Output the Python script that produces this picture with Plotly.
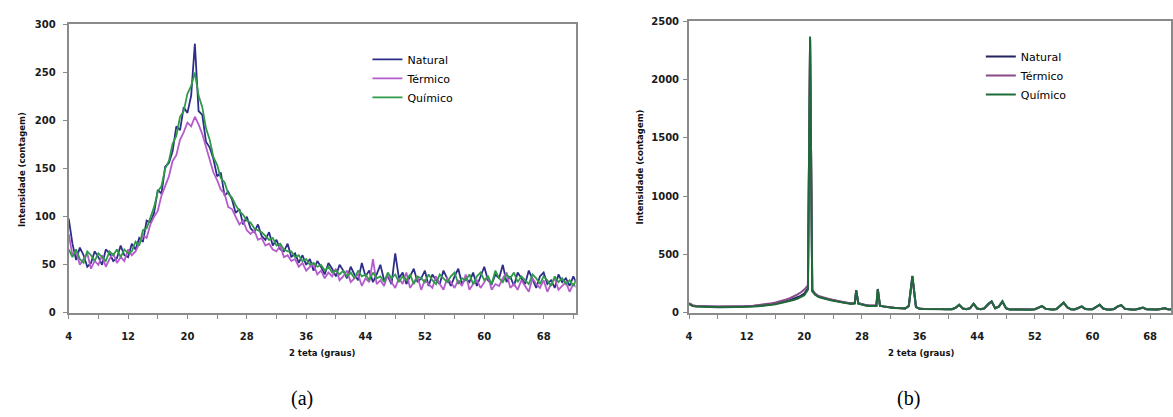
import plotly.graph_objects as go

# ---------------- data: panel (a) ----------------
TWO_THETA_A = [4.0, 4.5, 5.0, 5.5, 6.0, 6.5, 7.0, 7.5, 8.0, 8.5, 9.0, 9.5, 10.0, 10.5, 11.0, 11.5,
               12.0, 12.5, 13.0, 13.5, 14.0, 14.5, 15.0, 15.5, 16.0, 16.5, 17.0, 17.5, 18.0, 18.5,
               19.0, 19.5, 20.0, 20.5, 21.0, 21.5, 22.0, 22.5, 23.0, 23.5, 24.0, 24.5, 25.0, 25.5,
               26.0, 26.5, 27.0, 27.5, 28.0, 28.5, 29.0, 29.5, 30.0, 30.5, 31.0, 31.5, 32.0, 32.5,
               33.0, 33.5, 34.0, 34.5, 35.0, 35.5, 36.0, 36.5, 37.0, 37.5, 38.0, 38.5, 39.0, 39.5,
               40.0, 40.5, 41.0, 41.5, 42.0, 42.5, 43.0, 43.5, 44.0, 44.5, 45.0, 45.5, 46.0, 46.5,
               47.0, 47.5, 48.0, 48.5, 49.0, 49.5, 50.0, 50.5, 51.0, 51.5, 52.0, 52.5, 53.0, 53.5,
               54.0, 54.5, 55.0, 55.5, 56.0, 56.5, 57.0, 57.5, 58.0, 58.5, 59.0, 59.5, 60.0, 60.5,
               61.0, 61.5, 62.0, 62.5, 63.0, 63.5, 64.0, 64.5, 65.0, 65.5, 66.0, 66.5, 67.0, 67.5,
               68.0, 68.5, 69.0, 69.5, 70.0, 70.5, 71.0, 71.5, 72.0, 72.5, 73.0, 73.5]

NATURAL_A = [98, 72, 55, 68, 60, 48, 52, 64, 58, 50, 66, 62, 54, 57, 70, 60,
             58, 72, 66, 78, 74, 96, 94, 104, 128, 124, 152, 156, 168, 194,
             190, 214, 208, 226, 280, 210, 206, 178, 172, 160, 142, 146, 122, 126,
             118, 104, 108, 92, 100, 88, 84, 92, 80, 76, 84, 70, 76, 66,
             64, 72, 58, 62, 52, 60, 50, 56, 44, 54, 48, 40, 52, 46,
             38, 50, 44, 36, 48, 40, 34, 52, 38, 44, 32, 40, 50, 34,
             38, 30, 62, 36, 42, 30, 38, 46, 32, 36, 44, 28, 40, 34,
             30, 44, 36, 28, 38, 46, 30, 36, 32, 42, 28, 38, 48, 34,
             30, 40, 36, 50, 32, 38, 28, 42, 36, 30, 44, 34, 26, 38,
             42, 30, 34, 26, 40, 32, 36, 28, 38, 30, 34, 28]

TERMICO_A = [82, 60, 64, 50, 56, 62, 46, 54, 50, 60, 48, 56, 62, 52, 58, 54,
             66, 60, 64, 72, 80, 78, 92, 100, 106, 122, 132, 142, 158, 164,
             180, 188, 198, 194, 204, 196, 186, 172, 160, 146, 138, 128, 124, 110,
             108, 100, 92, 96, 86, 82, 86, 76, 78, 70, 72, 66, 64, 70,
             58, 60, 54, 56, 48, 52, 44, 48, 50, 40, 44, 36, 42, 38,
             46, 34, 38, 44, 32, 36, 40, 28, 36, 32, 56, 30, 34, 28,
             40, 32, 26, 36, 30, 42, 26, 32, 38, 24, 34, 30, 26, 38,
             30, 24, 36, 32, 26, 34, 28, 40, 24, 30, 34, 26, 32, 38,
             24, 30, 28, 36, 42, 26, 30, 24, 34, 28, 22, 36, 30, 26,
             34, 22, 30, 36, 24, 28, 32, 22, 30, 26, 32, 24]

QUIMICO_A = [66, 58, 66, 56, 52, 64, 60, 54, 62, 58, 54, 64, 60, 66, 58, 66,
             62, 64, 74, 70, 86, 88, 100, 110, 126, 132, 150, 158, 176, 184,
             204, 210, 228, 236, 250, 226, 214, 192, 180, 162, 154, 140, 136, 124,
             120, 112, 106, 102, 96, 94, 88, 86, 84, 80, 76, 78, 70, 72,
             66, 64, 64, 58, 60, 54, 56, 50, 52, 48, 50, 44, 48, 42,
             44, 40, 44, 38, 42, 36, 44, 38, 40, 34, 42, 36, 38, 32,
             42, 36, 40, 32, 38, 34, 40, 30, 38, 36, 32, 40, 34, 30,
             40, 36, 32, 38, 42, 30, 36, 34, 40, 30, 38, 42, 34, 38,
             30, 44, 36, 32, 40, 36, 42, 32, 38, 34, 30, 40, 36, 30,
             38, 34, 28, 38, 32, 36, 30, 34, 28, 36, 30, 32]

# ---------------- data: panel (b) ----------------
TWO_THETA_B = [4.0, 4.5, 5.0, 5.5, 6.0, 6.5, 7.0, 7.5, 8.0, 8.5, 9.0, 9.5, 10.0, 10.5, 11.0, 11.5,
               12.0, 12.5, 13.0, 13.5, 14.0, 14.5, 15.0, 15.5, 16.0, 16.5, 17.0, 17.5, 18.0, 18.5,
               19.0, 19.5, 20.0, 20.5, 20.8, 21.1,
               21.5, 22.0, 22.5, 23.0, 23.5, 24.0, 24.5, 25.0, 25.5, 26.0, 26.5, 27.0,
               27.2,
               27.5, 28.0, 28.5, 29.0, 29.5, 30.0,
               30.2,
               30.5, 31.0, 31.5, 32.0, 32.5, 33.0, 33.5, 34.0, 34.5, 35.0, 35.5, 36.0, 36.5, 37.0,
               37.5, 38.0, 38.5, 39.0, 39.5, 40.0, 40.5, 41.0, 41.5, 42.0, 42.5, 43.0, 43.5, 44.0,
               44.5, 45.0, 45.5, 46.0, 46.5, 47.0, 47.5, 48.0, 48.5, 49.0, 49.5, 50.0, 50.5, 51.0,
               51.5, 52.0, 52.5, 53.0, 53.5, 54.0, 54.5, 55.0, 55.5, 56.0, 56.5, 57.0, 57.5, 58.0,
               58.5, 59.0, 59.5, 60.0, 60.5, 61.0, 61.5, 62.0, 62.5, 63.0, 63.5, 64.0, 64.5, 65.0,
               65.5, 66.0, 66.5, 67.0, 67.5, 68.0, 68.5, 69.0, 69.5, 70.0, 70.5, 71.0, 71.5, 72.0,
               72.5]

NATURAL_B = [80, 62, 58, 56, 55, 54, 55, 53, 52, 53, 52, 51, 52, 52, 53, 54,
             55, 56, 58, 60, 63, 66, 70, 75, 80, 86, 93, 100, 110, 120,
             132, 146, 165, 210, 2350, 190,
             160, 140, 130, 122, 115, 108, 102, 96, 90, 85, 80, 84,
             195,
             82, 72, 66, 62, 59, 62,
             205,
             62, 55, 50, 46, 44, 42, 40, 38, 60, 315, 50, 36, 34, 35,
             33, 34, 32, 33, 32, 33, 32, 45, 70, 38, 32, 40, 78, 38,
             32, 40, 75, 98, 40, 55, 98, 40, 30, 30, 29, 30, 29, 30,
             29, 32, 45, 58, 36, 30, 29, 34, 60, 88, 48, 32, 30, 40,
             55, 34, 30, 32, 50, 70, 38, 30, 29, 34, 55, 66, 36, 30,
             29, 30, 38, 45, 32, 30, 29, 30, 34, 40, 31, 29, 30, 29,
             30]

TERMICO_B = [85, 66, 60, 58, 57, 56, 56, 55, 55, 55, 54, 54, 55, 55, 56, 57,
             58, 60, 62, 65, 68, 72, 77, 83, 90, 97, 105, 115, 126, 140,
             156, 175, 200, 235, 2330, 200,
             165, 145, 134, 125, 118, 110, 104, 98, 92, 86, 81, 85,
             188,
             83, 73, 67, 63, 60, 63,
             198,
             63, 56, 51, 47, 45, 43, 41, 39, 58, 305, 52, 37, 35, 35,
             34, 34, 33, 33, 32, 33, 32, 44, 68, 38, 33, 40, 76, 38,
             32, 40, 72, 95, 40, 54, 95, 40, 31, 30, 30, 30, 29, 30,
             30, 32, 44, 56, 36, 30, 30, 34, 58, 85, 47, 32, 30, 40,
             54, 34, 30, 32, 49, 68, 37, 30, 30, 34, 54, 64, 36, 30,
             29, 30, 37, 44, 32, 30, 29, 30, 33, 39, 31, 30, 30, 29,
             30]

QUIMICO_B = [75, 58, 54, 52, 51, 50, 50, 49, 48, 48, 48, 47, 48, 48, 49, 50,
             51, 52, 54, 56, 58, 61, 65, 69, 74, 80, 86, 93, 101, 110,
             121, 134, 152, 200, 2370, 185,
             155, 136, 126, 118, 111, 104, 98, 92, 87, 82, 77, 80,
             192,
             79, 70, 64, 60, 57, 60,
             202,
             60, 56, 49, 45, 43, 41, 39, 37, 58, 318, 49, 35, 33, 34,
             32, 33, 31, 32, 31, 32, 31, 44, 71, 37, 31, 39, 79, 37,
             31, 39, 76, 100, 39, 54, 100, 39, 29, 29, 28, 29, 28, 29,
             28, 31, 44, 59, 35, 29, 28, 33, 61, 90, 47, 31, 29, 39,
             56, 33, 29, 31, 51, 72, 37, 29, 28, 33, 56, 67, 35, 29,
             28, 29, 37, 46, 31, 29, 28, 29, 33, 41, 30, 28, 29, 28,
             29]

SERIES_NAMES = ["Natural", "Térmico", "Químico"]
X_TITLE = "2 teta (graus)"
Y_TITLE = "Intensidade (contagem)"
CAPTIONS = ["(a)", "(b)"]

COLORS_A = ["#2e2e8a", "#b45ccc", "#2f9a48"]
COLORS_B = ["#23235e", "#8a4a8a", "#1f6a3a"]

W, H = 1173, 417
FONT = "DejaVu Sans, Verdana, sans-serif"

fig = go.Figure()

for name, ys, col in zip(SERIES_NAMES, [NATURAL_A, TERMICO_A, QUIMICO_A], COLORS_A):
    fig.add_trace(go.Scatter(x=TWO_THETA_A, y=ys, mode="lines", name=name,
                             line=dict(color=col, width=1.8), xaxis="x", yaxis="y",
                             legend="legend"))

for name, ys, col in zip(SERIES_NAMES, [NATURAL_B, TERMICO_B, QUIMICO_B], COLORS_B):
    fig.add_trace(go.Scatter(x=TWO_THETA_B, y=ys, mode="lines", name=name,
                             line=dict(color=col, width=2), xaxis="x2", yaxis="y2",
                             legend="legend2"))


def px_x(p):
    return p / W


def px_y(p):
    return (H - p) / H


axis_common = dict(showline=True, linecolor="#8a8a8a", linewidth=2, mirror=True,
                   showgrid=False, zeroline=False, ticks="outside", ticklen=4,
                   tickcolor="#8a8a8a", tickwidth=1,
                   tickfont=dict(family=FONT, size=10, color="#1a1a1a", weight="bold"))

minor_x = dict(dtick=4, ticks="outside", ticklen=4, tickcolor="#8a8a8a")

fig.update_layout(
    width=W, height=H,
    margin=dict(l=0, r=0, t=0, b=0),
    paper_bgcolor="white", plot_bgcolor="white",
    xaxis=dict(domain=[px_x(66), px_x(575)], range=[4, 72.3], tick0=4, dtick=8,
               minor=minor_x, anchor="y", ticklabelstandoff=9, **axis_common),
    yaxis=dict(domain=[px_y(316), px_y(19)], range=[0, 300], dtick=50,
               anchor="x", ticklabelstandoff=5, **axis_common),
    xaxis2=dict(domain=[px_x(689), 1.0], range=[4, 70.9], tick0=4, dtick=8,
                minor=minor_x, anchor="y2", ticklabelstandoff=9, **axis_common),
    yaxis2=dict(domain=[px_y(316), px_y(15.7)], range=[0, 2500], dtick=500,
                anchor="x2", ticklabelstandoff=2, **axis_common),
    legend=dict(x=px_x(366), y=px_y(40), xanchor="left", yanchor="top",
                bgcolor="rgba(0,0,0,0)", font=dict(family=FONT, size=11, color="#000"),
                tracegroupgap=0, itemwidth=30),
    legend2=dict(x=px_x(982), y=px_y(37), xanchor="left", yanchor="top",
                 bgcolor="rgba(0,0,0,0)", font=dict(family=FONT, size=11, color="#000"),
                 tracegroupgap=0, itemwidth=30),
    showlegend=True,
)

title_font = dict(size=8.5, color="#111", family="DejaVu Sans, sans-serif", weight="bold")
cap_font = dict(size=20, color="#000", family="Liberation Serif, Times New Roman, serif")
annots = [
    dict(text=Y_TITLE, x=px_x(19), y=px_y(168), textangle=-90, font=title_font),
    dict(text=Y_TITLE, x=px_x(640), y=px_y(166), textangle=-90, font=title_font),
    dict(text=X_TITLE, x=px_x(320), y=px_y(357), font=title_font),
    dict(text=X_TITLE, x=px_x(922), y=px_y(357), font=title_font),
    dict(text=CAPTIONS[0], x=px_x(300), y=px_y(404), font=cap_font),
    dict(text=CAPTIONS[1], x=px_x(909), y=px_y(404), font=cap_font),
]
for a in annots:
    fig.add_annotation(xref="paper", yref="paper", showarrow=False,
                       xanchor="center", yanchor="middle", **a)

fig.write_html("out.html")
